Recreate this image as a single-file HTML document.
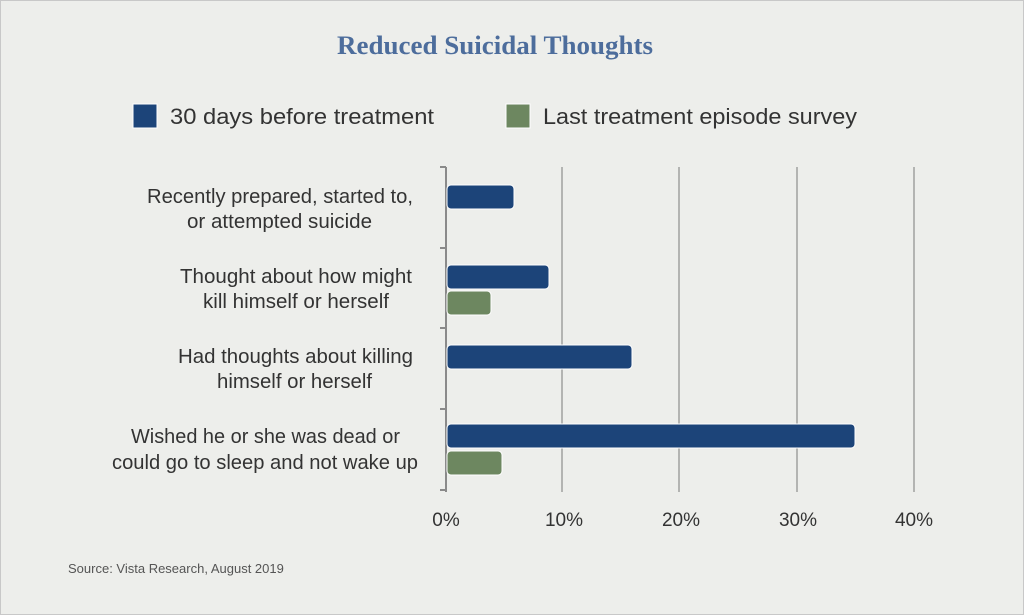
<!DOCTYPE html>
<html><head><meta charset="utf-8"><style>
body{margin:0;background:#fff}
svg{display:block}
text{font-family:"Liberation Sans",sans-serif;fill:#333}
</style></head><body>
<svg width="1024" height="615" viewBox="0 0 1024 615">
<rect x="0.5" y="0.5" width="1023" height="614" fill="#edeeeb" stroke="#c8c8c8"/>
<text x="337" y="54" textLength="316" lengthAdjust="spacingAndGlyphs" style="font-family:'Liberation Serif',serif;font-weight:bold;font-size:26px;fill:#4d6d9c">Reduced Suicidal Thoughts</text>
<rect x="133" y="104" width="24" height="24" fill="#1c4479" stroke="#fff"/>
<text x="170" y="124" font-size="22" textLength="264" lengthAdjust="spacingAndGlyphs">30 days before treatment</text>
<rect x="506" y="104" width="24" height="24" fill="#6d8760" stroke="#fff"/>
<text x="543" y="124" font-size="22" textLength="314" lengthAdjust="spacingAndGlyphs">Last treatment episode survey</text>
<g stroke="#a0a0a0" stroke-width="1.5">
<line x1="562" y1="167" x2="562" y2="492"/><line x1="679" y1="167" x2="679" y2="492"/>
<line x1="797" y1="167" x2="797" y2="492"/><line x1="914" y1="167" x2="914" y2="492"/>
</g>
<g stroke="#8a8a8a" stroke-width="2">
<line x1="446" y1="167" x2="446" y2="492"/>
<line x1="440" y1="167" x2="446" y2="167"/><line x1="440" y1="248" x2="446" y2="248"/>
<line x1="440" y1="328" x2="446" y2="328"/><line x1="440" y1="409" x2="446" y2="409"/>
<line x1="440" y1="490" x2="446" y2="490"/>
</g>
<g stroke="#fff" stroke-width="1">
<rect x="447" y="185" width="67" height="24" rx="4" fill="#1c4479"/>
<rect x="447" y="265" width="102" height="24" rx="4" fill="#1c4479"/>
<rect x="447" y="291" width="44" height="24" rx="4" fill="#6d8760"/>
<rect x="447" y="345" width="185" height="24" rx="4" fill="#1c4479"/>
<rect x="447" y="424" width="408" height="24" rx="4" fill="#1c4479"/>
<rect x="447" y="451" width="55" height="24" rx="4" fill="#6d8760"/>
</g>
<g font-size="20">
<text x="147" y="203" textLength="266" lengthAdjust="spacingAndGlyphs">Recently prepared, started to,</text>
<text x="187" y="228" textLength="185" lengthAdjust="spacingAndGlyphs">or attempted suicide</text>
<text x="180" y="283" textLength="232" lengthAdjust="spacingAndGlyphs">Thought about how might</text>
<text x="203" y="308" textLength="186" lengthAdjust="spacingAndGlyphs">kill himself or herself</text>
<text x="178" y="363" textLength="235" lengthAdjust="spacingAndGlyphs">Had thoughts about killing</text>
<text x="217" y="388" textLength="155" lengthAdjust="spacingAndGlyphs">himself or herself</text>
<text x="131" y="443" textLength="269" lengthAdjust="spacingAndGlyphs">Wished he or she was dead or</text>
<text x="112" y="469" textLength="306" lengthAdjust="spacingAndGlyphs">could go to sleep and not wake up</text>
</g>
<g font-size="19" text-anchor="middle">
<text x="446" y="526">0%</text><text x="564" y="526">10%</text><text x="681" y="526">20%</text>
<text x="798" y="526">30%</text><text x="914" y="526">40%</text>
</g>
<text x="68" y="573" font-size="13" style="fill:#555">Source: Vista Research, August 2019</text>
</svg>
</body></html>
